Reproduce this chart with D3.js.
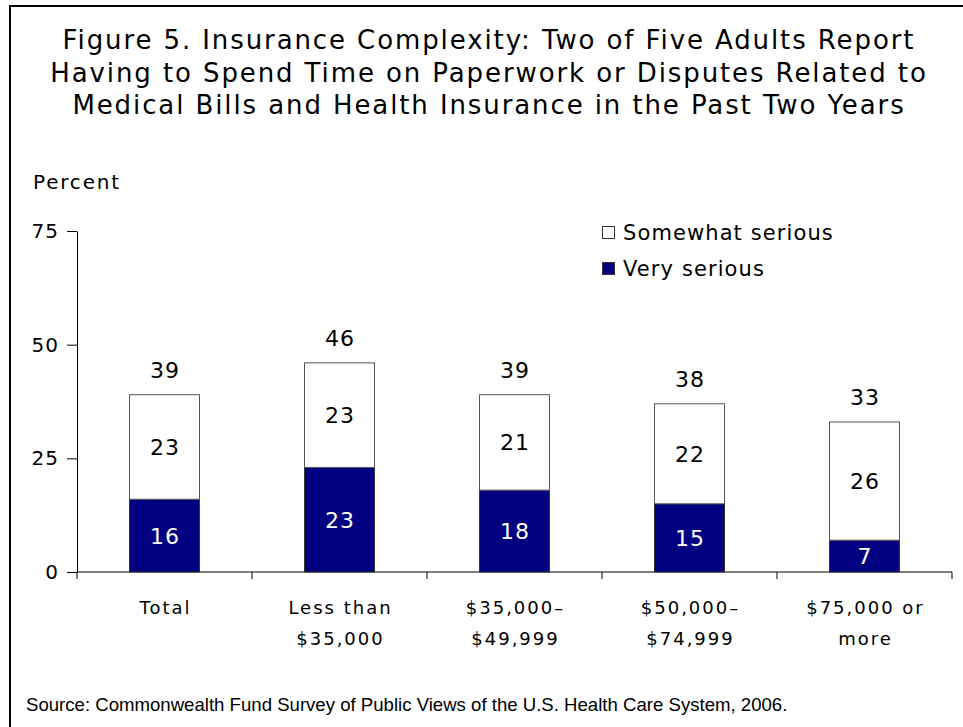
<!DOCTYPE html>
<html>
<head>
<meta charset="utf-8">
<script src="https://cdn.jsdelivr.net/npm/d3@7"></script>
<style>
  body { margin: 0; background: #fff; }
  text { font-family: "DejaVu Sans", Verdana, sans-serif; fill: #000; }
</style>
</head>
<body>
<div id="chart"></div>
<script>
// chart data
let categories = [["Total"], ["Less than", "$35,000"], ["$35,000\u2013", "$49,999"], ["$50,000\u2013", "$74,999"], ["$75,000 or", "more"]];
let verySerious = [16, 23, 18, 15, 7];
let somewhatSerious = [23, 23, 21, 22, 26];
let totals = [39, 46, 39, 38, 33];
let yTicks = [0, 25, 50, 75];
let titleLines = [
    "Figure 5. Insurance Complexity: Two of Five Adults Report",
    "Having to Spend Time on Paperwork or Disputes Related to",
    "Medical Bills and Health Insurance in the Past Two Years"
];

let svgWidth = 963;
let svgHeight = 727;

let svg = d3.select('#chart')
    .append('svg')
    .attr('width', svgWidth)
    .attr('height', svgHeight);

// frame (left + top lines)
svg.append('path')
    .attr('d', `M10,${svgHeight} L10,6 L${svgWidth},6`)
    .attr('fill', 'none')
    .attr('stroke', '#000')
    .attr('stroke-width', 2);

// title
svg.append('text')
    .attr('text-anchor', 'middle')
    .style('font-size', '26px')
    .style('letter-spacing', '1.9px')
    .selectAll('tspan')
    .data(titleLines)
    .enter()
    .append('tspan')
    .attr('x', 489)
    .attr('y', (d, i) => 49 + i * 32.5)
    .text(d => d);

// scales
let xBand = d3.scaleBand()
    .domain(d3.range(categories.length))
    .range([77, 952])
    .paddingInner(0.6)
    .paddingOuter(0.3);

let yLinear = d3.scaleLinear()
    .domain([0, 75])
    .range([572, 231]);

// y axis
let yAxis = svg.append('g')
    .attr('transform', 'translate(77,0)')
    .call(d3.axisLeft(yLinear).tickValues(yTicks).tickSize(10).tickPadding(8).tickSizeOuter(0));
yAxis.select('.domain').attr('stroke', '#000');
yAxis.selectAll('line').attr('stroke', '#000');
yAxis.selectAll('text')
    .style('font-size', '20px')
    .style('letter-spacing', '1px')
    .style('font-family', '"DejaVu Sans", Verdana, sans-serif');

svg.append('text')
    .attr('x', 33)
    .attr('y', 189)
    .style('font-size', '20px')
    .style('letter-spacing', '1.8px')
    .text('Percent');

// x axis line with ticks at category boundaries
let step = xBand.step();
let boundaries = d3.range(categories.length + 1).map(i => 77 + i * step);
svg.append('line')
    .attr('x1', 77).attr('x2', 952)
    .attr('y1', yLinear(0)).attr('y2', yLinear(0))
    .attr('stroke', '#000');
svg.selectAll('.xtick')
    .data(boundaries)
    .enter()
    .append('line')
    .attr('class', 'xtick')
    .attr('x1', d => d).attr('x2', d => d)
    .attr('y1', yLinear(0)).attr('y2', yLinear(0) + 7)
    .attr('stroke', '#000');

// bars
let rows = categories.map((c, i) => ({i: i, very: verySerious[i], some: somewhatSerious[i], total: totals[i]}));

let bars = svg.selectAll('.bar')
    .data(rows)
    .enter()
    .append('g')
    .attr('class', 'bar');

bars.append('rect')
    .attr('x', d => xBand(d.i))
    .attr('y', d => yLinear(d.very))
    .attr('width', xBand.bandwidth())
    .attr('height', d => yLinear(0) - yLinear(d.very))
    .attr('fill', '#000080')
    .attr('stroke', '#333')
    .attr('stroke-width', 1);

bars.append('rect')
    .attr('x', d => xBand(d.i))
    .attr('y', d => yLinear(d.very + d.some))
    .attr('width', xBand.bandwidth())
    .attr('height', d => yLinear(d.very) - yLinear(d.very + d.some))
    .attr('fill', '#fff')
    .attr('stroke', '#555')
    .attr('stroke-width', 1);

// segment labels
let cx = d => xBand(d.i) + xBand.bandwidth() / 2 + 0.5;

bars.append('text')
    .attr('text-anchor', 'middle')
    .attr('x', cx)
    .attr('y', d => (yLinear(0) + yLinear(d.very)) / 2 + 8)
    .style('font-size', '22px')
    .style('letter-spacing', '1px')
    .style('fill', '#fff')
    .text(d => d.very);

bars.append('text')
    .attr('text-anchor', 'middle')
    .attr('x', cx)
    .attr('y', d => (yLinear(d.very) + yLinear(d.very + d.some)) / 2 + 8)
    .style('font-size', '22px')
    .style('letter-spacing', '1px')
    .text(d => d.some);

bars.append('text')
    .attr('text-anchor', 'middle')
    .attr('x', cx)
    .attr('y', d => yLinear(d.very + d.some) - 17)
    .style('font-size', '22px')
    .style('letter-spacing', '1px')
    .text(d => d.total);

// category labels
svg.selectAll('.cat')
    .data(categories)
    .enter()
    .append('text')
    .attr('class', 'cat')
    .attr('text-anchor', 'middle')
    .style('font-size', '18px')
    .style('letter-spacing', '2px')
    .each(function(lines, i) {
        d3.select(this).selectAll('tspan')
            .data(lines)
            .enter()
            .append('tspan')
            .attr('x', xBand(i) + xBand.bandwidth() / 2 + 1)
            .attr('y', (d, j) => 614 + j * 31)
            .text(d => d);
    });

// legend
let legendItems = [
    {label: 'Somewhat serious', fill: '#fff'},
    {label: 'Very serious', fill: '#000080'}
];
let legend = svg.selectAll('.legend')
    .data(legendItems)
    .enter()
    .append('g')
    .attr('class', 'legend')
    .attr('transform', (d, i) => `translate(602, ${226 + i * 36})`);
legend.append('rect')
    .attr('x', 0.5).attr('y', 0.5)
    .attr('width', 12).attr('height', 12)
    .attr('fill', d => d.fill)
    .attr('stroke', '#333');
legend.append('text')
    .attr('x', 21)
    .attr('y', 14)
    .style('font-size', '21px')
    .style('letter-spacing', '1.1px')
    .text(d => d.label);

// source
svg.append('text')
    .attr('x', 26)
    .attr('y', 711)
    .style('font-family', '"Liberation Sans", Arial, sans-serif')
    .style('font-size', '18.6px')
    .text('Source: Commonwealth Fund Survey of Public Views of the U.S. Health Care System, 2006.');
</script>
</body>
</html>
